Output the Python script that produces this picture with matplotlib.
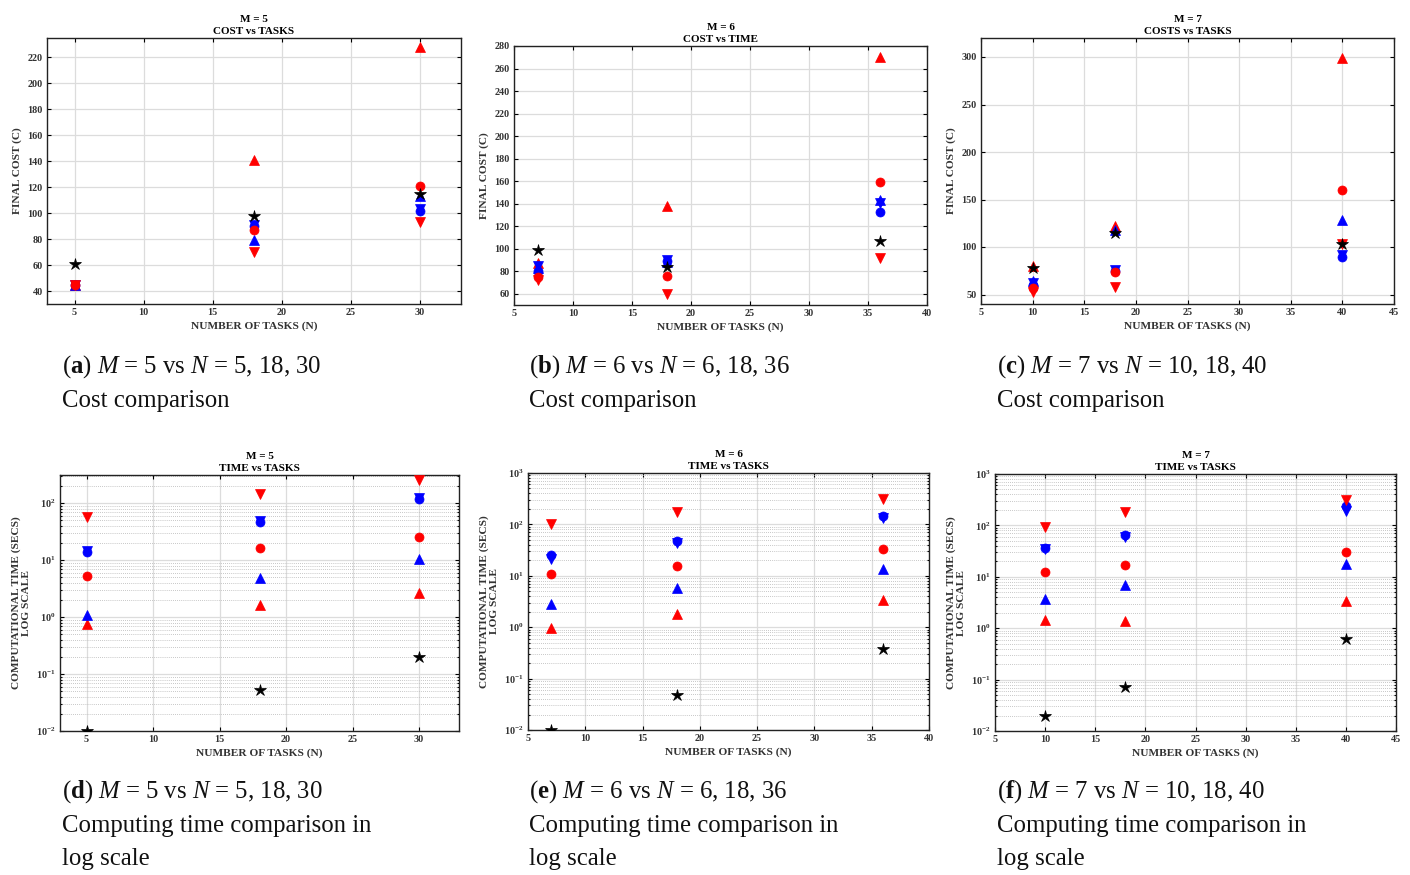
import matplotlib
matplotlib.use("Agg")
import matplotlib.pyplot as plt
from matplotlib.ticker import LogLocator, NullFormatter

plt.rcParams['font.family'] = ['Liberation Serif', 'DejaVu Serif']
plt.rcParams['mathtext.fontset'] = 'custom'
plt.rcParams['mathtext.rm'] = 'Liberation Serif'
plt.rcParams['mathtext.it'] = 'Liberation Serif:italic'
plt.rcParams['mathtext.bf'] = 'Liberation Serif:bold'

# ---------------- data ----------------
series_names = ["red_up", "red_down", "red_circle", "blue_up", "blue_down", "blue_circle", "star"]

N_m5 = [5, 18, 30]
N_m6 = [7, 18, 36]
N_m7 = [10, 18, 40]

# cost values
cost_m5 = {
    "red_up":      [45, 141, 228],
    "red_down":    [45, 70, 93],
    "red_circle":  [45, 87, 121],
    "blue_up":     [45, 79, 113],
    "blue_down":   [45, 91, 103],
    "blue_circle": [45, 90, 102],
    "star":        [61, 98, 115],
}
cost_m6 = {
    "red_up":      [87, 138, 270],
    "red_down":    [72, 60, 92],
    "red_circle":  [75, 76, 159],
    "blue_up":     [83, 88, 143],
    "blue_down":   [85, 90, 141],
    "blue_circle": [80, 89, 133],
    "star":        [99, 84, 107],
}
cost_m7 = {
    "red_up":      [80, 122, 299],
    "red_down":    [53, 58, 103],
    "red_circle":  [57, 74, 160],
    "blue_up":     [64, 118, 128],
    "blue_down":   [62, 76, 92],
    "blue_circle": [60, 75, 90],
    "star":        [78, 115, 103],
}
# computational time values (s)
time_m5 = {
    "red_up":      [0.74, 1.6, 2.6],
    "red_down":    [57, 144, 255],
    "red_circle":  [5.2, 16.4, 25],
    "blue_up":     [1.1, 4.8, 10.6],
    "blue_down":   [14.5, 49, 122],
    "blue_circle": [13.6, 47, 117],
    "star":        [0.01, 0.052, 0.195],
}
time_m6 = {
    "red_up":      [0.97, 1.8, 3.45],
    "red_down":    [102, 172, 310],
    "red_circle":  [10.8, 15.7, 33],
    "blue_up":     [2.8, 5.8, 13.4],
    "blue_down":   [21, 44, 135],
    "blue_circle": [25.5, 48, 143],
    "star":        [0.01, 0.049, 0.37],
}
time_m7 = {
    "red_up":      [1.45, 1.37, 3.45],
    "red_down":    [92, 180, 316],
    "red_circle":  [12.3, 16.6, 31],
    "blue_up":     [3.7, 6.8, 18],
    "blue_down":   [34, 59, 193],
    "blue_circle": [36, 65, 235],
    "star":        [0.0195, 0.071, 0.61],
}

titles_top = ["M = 5\nCOST vs TASKS", "M = 6\nCOST vs TIME", "M = 7\nCOSTS vs TASKS"]
titles_bot = ["M = 5\nTIME vs TASKS", "M = 6\nTIME vs TASKS", "M = 7\nTIME vs TASKS"]

captions = [
    r"($\mathbf{a}$) $M$ = 5 vs $N$ = 5, 18, 30" + "\nCost comparison",
    r"($\mathbf{b}$) $M$ = 6 vs $N$ = 6, 18, 36" + "\nCost comparison",
    r"($\mathbf{c}$) $M$ = 7 vs $N$ = 10, 18, 40" + "\nCost comparison",
    r"($\mathbf{d}$) $M$ = 5 vs $N$ = 5, 18, 30" + "\nComputing time comparison in\nlog scale",
    r"($\mathbf{e}$) $M$ = 6 vs $N$ = 6, 18, 36" + "\nComputing time comparison in\nlog scale",
    r"($\mathbf{f}$) $M$ = 7 vs $N$ = 10, 18, 40" + "\nComputing time comparison in\nlog scale",
]

x_limits = [(3, 33), (5, 40), (5, 45)]
x_ticks = [[5, 10, 15, 20, 25, 30], [5, 10, 15, 20, 25, 30, 35, 40], [5, 10, 15, 20, 25, 30, 35, 40, 45]]
cost_ylims = [(30, 235), (50, 280), (40, 320)]
cost_yticks = [list(range(40, 221, 20)), list(range(60, 281, 20)), [50, 100, 150, 200, 250, 300]]
time_ylims = [(0.01, 310), (0.01, 1000), (0.01, 1000)]

styles = {
    "red_up":      dict(marker="^", color="#ff0000"),
    "blue_up":     dict(marker="^", color="#0000ff"),
    "blue_down":   dict(marker="v", color="#0000ff"),
    "blue_circle": dict(marker="o", color="#0000ff"),
    "red_circle":  dict(marker="o", color="#ff0000"),
    "red_down":    dict(marker="v", color="#ff0000"),
    "star":        dict(marker="*", color="#000000"),
}
draw_order = ["red_up", "blue_up", "blue_down", "blue_circle", "red_circle", "red_down", "star"]
msizes = {"^": 6.8, "v": 6.8, "o": 6.5, "*": 9}

W, H = 1410, 875
fig = plt.figure(figsize=(W / 100, H / 100), dpi=100)

def rect(l, r, t, b):
    return [l / W, (H - b) / H, (r - l) / W, (b - t) / H]

top_rects = [rect(47, 461, 38, 304), rect(514, 927, 46, 305), rect(981, 1394, 38, 304)]
bot_rects = [rect(60, 459, 475, 731), rect(528, 929, 473, 730), rect(995, 1396, 474, 731)]

def style_axes(ax):
    for sp in ax.spines.values():
        sp.set_linewidth(1.0)
        sp.set_color("#222222")
    ax.tick_params(which="both", direction="in", top=True, right=True, length=3, width=0.8,
                   labelsize=7.3, pad=3, labelcolor="#333333")
    for lab in ax.get_xticklabels() + ax.get_yticklabels():
        lab.set_fontweight("bold")
    ax.set_axisbelow(True)

def plot_series(ax, xs, data):
    for name in draw_order:
        st = styles[name]
        ax.plot(xs, data[name], linestyle="none", marker=st["marker"], color=st["color"],
                markersize=msizes[st["marker"]], markeredgewidth=0.5, zorder=3)

Ns = [N_m5, N_m6, N_m7]
costs = [cost_m5, cost_m6, cost_m7]
times = [time_m5, time_m6, time_m7]

lab_kw = dict(fontsize=8.2, fontweight="bold", color="#333333")
title_kw = dict(fontsize=8, fontweight="bold", pad=3, linespacing=1.45)

for i in range(3):
    ax = fig.add_axes(top_rects[i])
    plot_series(ax, Ns[i], costs[i])
    ax.set_xlim(*x_limits[i])
    ax.set_ylim(*cost_ylims[i])
    ax.set_yticks(cost_yticks[i])
    ax.set_xticks(x_ticks[i])
    ax.grid(True, color="#dcdcdc", linewidth=0.9)
    ax.set_title(titles_top[i], **title_kw)
    ax.set_xlabel("NUMBER OF TASKS (N)", labelpad=3, **lab_kw)
    ax.set_ylabel("FINAL COST (C)", labelpad=4, **lab_kw)
    style_axes(ax)

for i in range(3):
    ax = fig.add_axes(bot_rects[i])
    plot_series(ax, Ns[i], times[i])
    ax.set_yscale("log")
    ax.set_xlim(*x_limits[i])
    ax.set_ylim(*time_ylims[i])
    ax.set_xticks(x_ticks[i])
    ax.yaxis.set_major_locator(LogLocator(base=10, numticks=10))
    ax.yaxis.set_minor_locator(LogLocator(base=10, subs=range(2, 10), numticks=20))
    ax.yaxis.set_minor_formatter(NullFormatter())
    ax.grid(True, which="major", color="#dcdcdc", linewidth=0.9)
    ax.grid(True, which="minor", axis="y", color="#b5b5b5", linewidth=0.6, linestyle=(0, (1, 1.5)))
    ax.set_title(titles_bot[i], **title_kw)
    ax.set_xlabel("NUMBER OF TASKS (N)", labelpad=3, **lab_kw)
    ax.set_ylabel("COMPUTATIONAL TIME (SECS)\nLOG SCALE", labelpad=4, linespacing=1.05, **lab_kw)
    style_axes(ax)
    ax.tick_params(which="minor", length=1.5)

cap_x = [62, 529, 997]
for i, cap in enumerate(captions):
    x = cap_x[i % 3]
    y = 353 if i < 3 else 778
    fig.text(x / W, 1 - y / H, cap, fontsize=17.8, va="top", ha="left", linespacing=1.62,
             color="#111111")

fig.savefig("out.png", dpi=100)
